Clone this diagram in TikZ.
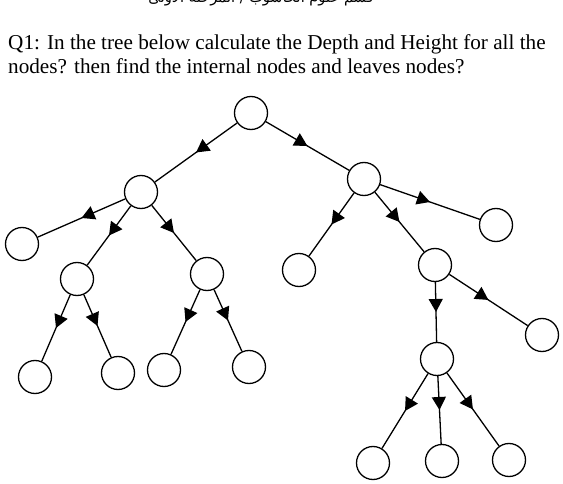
\documentclass[tikz,border=0pt]{standalone}
\usepackage{fontspec}
\setmainfont{Liberation Serif}
\newfontfamily\arabicfont[Script=Arabic]{DejaVu Sans}
\TeXXeTstate=1
\usetikzlibrary{arrows.meta,decorations.markings}
\tikzset{
  vertex/.style={circle,draw,line width=1.3pt,minimum size=33pt,inner sep=0pt},
  edge/.style={line width=1.3pt,postaction={decorate},
    decoration={markings,mark=at position 0.5 with {\arrow{Triangle[width=14pt,length=13pt]}}}},
  question/.style={anchor=base west,inner sep=0pt,font=\fontsize{21.2}{24}\selectfont}
}
\begin{document}
\begin{tikzpicture}[x=1pt,y=-1pt]
\useasboundingbox (0,0) rectangle (563,484);
\clip (0,0) rectangle (563,484);
\node[anchor=base,inner sep=0pt] (title) at (261,2.5){\arabicfont\fontsize{14.5}{16}\selectfont\beginR قسم علوم الحاسوب / المرحلة الاولى\endR};
\node[question] (q1) at (8,49.5){Q1: In the tree below calculate the Depth and Height for all the};
\node[question] (q2) at (8,74){nodes? then find the internal nodes and leaves nodes?};
% the tree
\node[vertex] (root) at (251,113){};
\node[vertex] (a) at (141,192){};
\node[vertex] (r) at (364,179){};
\node[vertex] (a1) at (22,244){};
\node[vertex] (b) at (77,279){};
\node[vertex] (c) at (207,274){};
\node[vertex] (b1) at (35,377){};
\node[vertex] (b2) at (118,373){};
\node[vertex] (c1) at (164,370){};
\node[vertex] (c2) at (249,367){};
\node[vertex] (r1) at (299,270){};
\node[vertex] (d) at (435,265){};
\node[vertex] (r3) at (496,225){};
\node[vertex] (e) at (437,359){};
\node[vertex] (d2) at (542,335){};
\node[vertex] (e1) at (373,463){};
\node[vertex] (e2) at (442,461){};
\node[vertex] (e3) at (509,460){};
\draw[edge] (root)--(a);
\draw[edge] (root)--(r);
\draw[edge] (a)--(a1);
\draw[edge] (a)--(b);
\draw[edge] (a)--(c);
\draw[edge] (b)--(b1);
\draw[edge] (b)--(b2);
\draw[edge] (c)--(c1);
\draw[edge] (c)--(c2);
\draw[edge] (r)--(r1);
\draw[edge] (r)--(d);
\draw[edge] (r)--(r3);
\draw[edge] (d)--(e);
\draw[edge] (d)--(d2);
\draw[edge] (e)--(e1);
\draw[edge] (e)--(e2);
\draw[edge] (e)--(e3);
\end{tikzpicture}
\end{document}
